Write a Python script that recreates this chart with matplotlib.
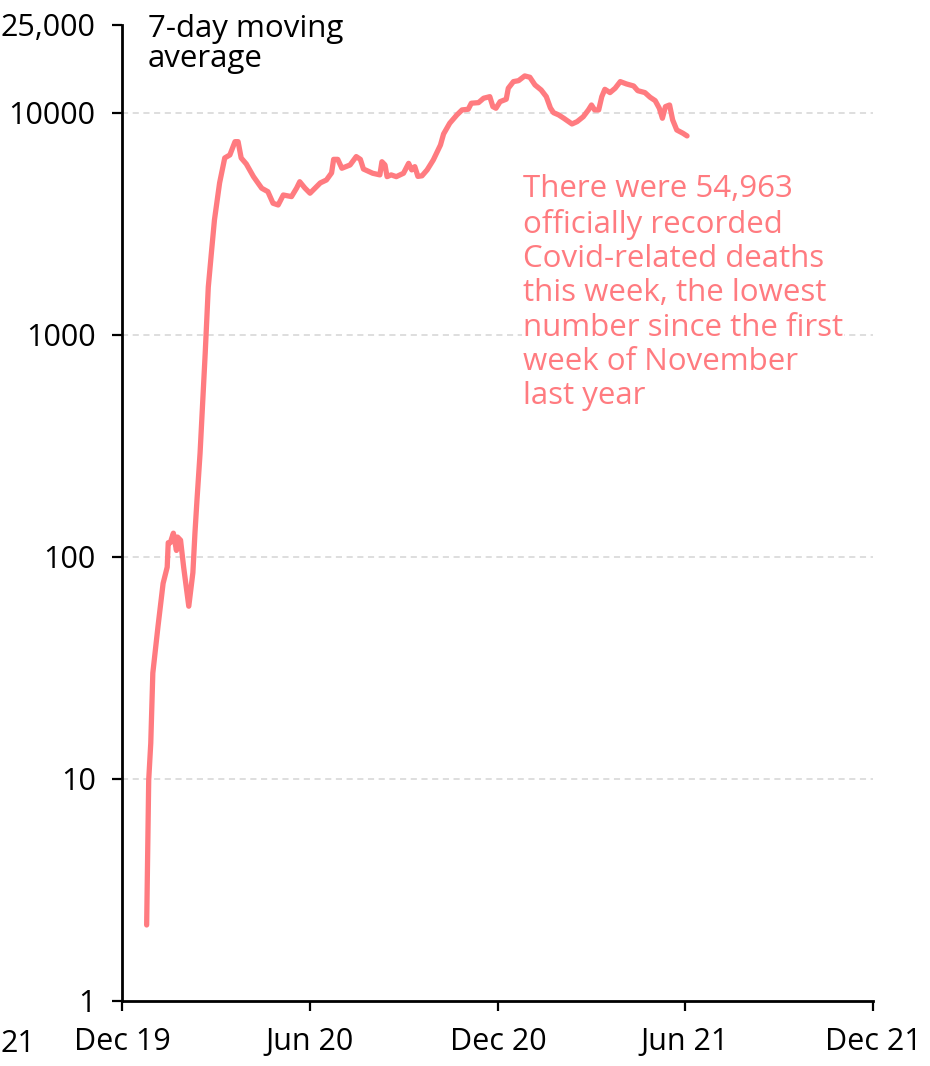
import numpy as np
import pandas as pd
import matplotlib
matplotlib.use("Agg")
import matplotlib.pyplot as plt

plt.rcParams['font.family'] = ['Open Sans', 'DejaVu Sans']

# 7-day moving average of daily deaths
dates = [
    "2019-12-25", "2019-12-27", "2019-12-29", "2019-12-31", "2020-01-05",
    "2020-01-10", "2020-01-14", "2020-01-15", "2020-01-17", "2020-01-20",
    "2020-01-23", "2020-01-24", "2020-01-27", "2020-01-30", "2020-02-04",
    "2020-02-08", "2020-02-10", "2020-02-12", "2020-02-15", "2020-02-20",
    "2020-02-23", "2020-02-26", "2020-02-29", "2020-03-05", "2020-03-10",
    "2020-03-15", "2020-03-20", "2020-03-23", "2020-03-26", "2020-03-31",
    "2020-04-07", "2020-04-12", "2020-04-15", "2020-04-21", "2020-04-26",
    "2020-05-01", "2020-05-06", "2020-05-14", "2020-05-19", "2020-05-22",
    "2020-05-27", "2020-06-01", "2020-06-11", "2020-06-17", "2020-06-22",
    "2020-06-24", "2020-06-28", "2020-07-02", "2020-07-10", "2020-07-16",
    "2020-07-20", "2020-07-23", "2020-08-01", "2020-08-08", "2020-08-10",
    "2020-08-13", "2020-08-15", "2020-08-19", "2020-08-24", "2020-08-31",
    "2020-09-05", "2020-09-08", "2020-09-11", "2020-09-14", "2020-09-18",
    "2020-09-23", "2020-09-29", "2020-10-06", "2020-10-09", "2020-10-15",
    "2020-10-22", "2020-10-27", "2020-11-02", "2020-11-05", "2020-11-12",
    "2020-11-17", "2020-11-23", "2020-11-26", "2020-11-29", "2020-12-03",
    "2020-12-09", "2020-12-11", "2020-12-16", "2020-12-21", "2020-12-27",
    "2021-01-01", "2021-01-06", "2021-01-12", "2021-01-17", "2021-01-21",
    "2021-01-24", "2021-01-29", "2021-02-03", "2021-02-11", "2021-02-16",
    "2021-02-22", "2021-02-27", "2021-03-02", "2021-03-05", "2021-03-09",
    "2021-03-12", "2021-03-15", "2021-03-20", "2021-03-25", "2021-03-30",
    "2021-04-05", "2021-04-12", "2021-04-16", "2021-04-23", "2021-04-28",
    "2021-05-03", "2021-05-07", "2021-05-10", "2021-05-13", "2021-05-17",
    "2021-05-20", "2021-05-24", "2021-05-30", "2021-06-03",
]
deaths = [
    2.2, 9.9, 14.5, 30, 48.5,
    76, 90, 116, 116, 128,
    107, 123, 119, 90, 60,
    85, 128, 181, 294, 829,
    1645, 2340, 3300, 4840, 6270,
    6470, 7425, 7425, 6270, 5890,
    5165, 4790, 4580, 4420, 3920,
    3850, 4270, 4200, 4590, 4900,
    4590, 4350, 4840, 4990, 5370,
    6180, 6180, 5635, 5830, 6360,
    6180, 5590, 5350, 5260, 6030,
    5830, 5165, 5260, 5165, 5350,
    5930, 5540, 5730, 5180, 5210,
    5540, 6140, 7175, 8040, 8990,
    9800, 10320, 10390, 11060, 11130,
    11650, 11840, 10680, 10500, 11240,
    11530, 12920, 13840, 13980, 14680,
    14480, 13370, 12690, 11840, 10530,
    10030, 9800, 9465, 8920, 9140,
    9620, 10320, 10860, 10320, 10320,
    11840, 12780, 12350, 12920, 13840,
    13510, 13230, 12600, 12350, 11770,
    11360, 10500, 9465, 10680, 10860,
    9300, 8380, 8100, 7880,
]

ytick_vals = [1, 10, 100, 1000, 10000, 25000]
ytick_labels = ["1", "10", "100", "1000", "10000", "25,000"]
grid_vals = [10, 100, 1000, 10000]
xtick_dates = ["2019-12-01", "2020-06-01", "2020-12-01", "2021-06-01", "2021-12-01"]
xtick_labels = ["Dec 19", "Jun 20", "Dec 20", "Jun 21", "Dec 21"]

note = ("There were 54,963\nofficially recorded\nCovid-related deaths\n"
        "this week, the lowest\nnumber since the first\nweek of November\nlast year")

line_color = "#ff7b80"

W, H = 930, 1066
fig = plt.figure(figsize=(W / 100, H / 100), dpi=100)
ax = fig.add_axes([122 / W, 1 - 1001 / H, 751 / W, (1001 - 24.6) / H])

x = pd.to_datetime(dates)
ax.plot(x, deaths, color=line_color, lw=3.8, solid_capstyle='round',
        solid_joinstyle='round', zorder=3)

ax.set_yscale('log')
ax.set_ylim(1, 25000)
ax.set_xlim(pd.Timestamp("2019-12-01"), pd.Timestamp("2021-12-01"))

for g in grid_vals:
    ax.axhline(g, color="#d4d4d4", lw=1.1, ls=(0, (4, 3)), zorder=1)

ax.set_yticks(ytick_vals)
ax.set_yticklabels(ytick_labels)
ax.yaxis.set_minor_locator(matplotlib.ticker.NullLocator())
ax.set_xticks(pd.to_datetime(xtick_dates))
ax.set_xticklabels(xtick_labels)

for s in ['top', 'right']:
    ax.spines[s].set_visible(False)
for s in ['left', 'bottom']:
    ax.spines[s].set_linewidth(2)
    ax.spines[s].set_color('black')

ax.tick_params(axis='both', length=7, width=1.6, labelsize=22, color='black')
ax.tick_params(axis='y', pad=12)
ax.tick_params(axis='x', pad=12)

fig.text(148 / W, 1 - 14 / H, "7-day moving\naverage", fontsize=22.5,
         va='top', ha='left', linespacing=1.02)

fig.text(523 / W, 1 - 174 / H, note, fontsize=22.5, color=line_color,
         va='top', ha='left', linespacing=1.19,
         bbox=dict(facecolor='white', edgecolor='none', pad=1))

# label fragment at the far left edge, as in the original
fig.text(0, 1 - 1044 / H, "21", fontsize=22, ha='left', va='center')

fig.savefig("out.png", dpi=100)
